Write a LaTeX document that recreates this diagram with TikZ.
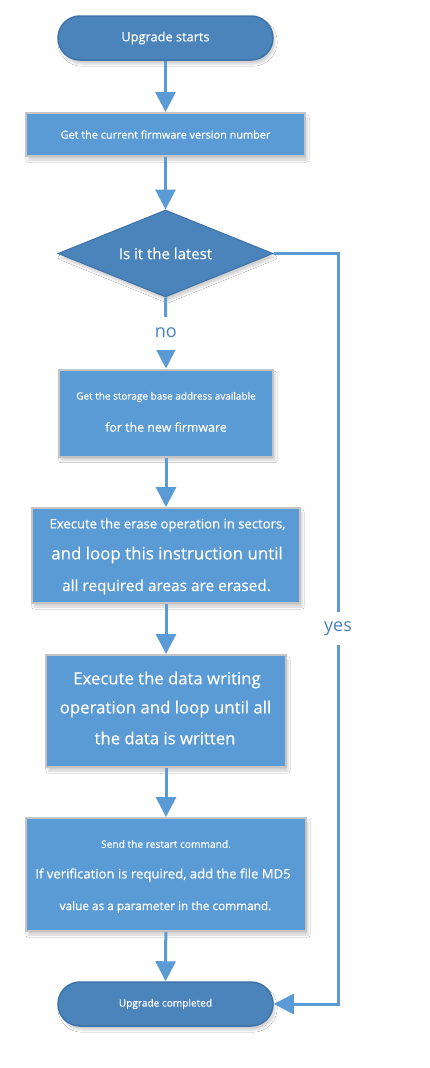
\documentclass[tikz,border=0pt]{standalone}
\usepackage{fontspec}
\setmainfont{Open Sans}
\newfontfamily\medfont{Open Sans}[FakeBold=0.4]
\usetikzlibrary{arrows.meta,shapes.geometric,shadows.blur}
\newcommand\fsz[1]{\fontsize{#1}{#1}\selectfont}
\definecolor{procfill}{HTML}{5B9BD5}
\definecolor{termfill}{HTML}{4A84BA}
\definecolor{termdraw}{HTML}{3E72A8}
\definecolor{procdraw}{HTML}{C4C4C4}
\definecolor{linecol}{HTML}{5B9BD5}
\definecolor{labcol}{HTML}{4A7FBF}
\tikzset{
  shade/.style={blur shadow={shadow xshift=2pt,shadow yshift=-4pt,shadow blur steps=6,shadow opacity=18}},
  term/.style={shade,draw=termdraw,line width=1.5pt,fill=termfill,rectangle,rounded corners=22pt,minimum width=215pt,minimum height=44pt,inner sep=0pt},
  proc/.style={shade,draw=procdraw,line width=2pt,fill=procfill,rectangle,inner sep=0pt},
  dec/.style={shade,draw=termdraw,line width=1pt,fill=termfill,diamond,minimum width=215pt,minimum height=87pt,inner sep=0pt},
  txt/.style={text=white,inner sep=0pt,anchor=center},
  conn/.style={draw=linecol,line width=3pt,-{Triangle[width=20pt,length=20pt]}},
  lab/.style={fill=white,text=labcol,inner xsep=3pt,minimum height=33pt}
}
\begin{document}
\begin{tikzpicture}[x=1pt,y=-1pt]
\fill[white] (0,0) rectangle (430,1068);
\useasboundingbox (0,0) rectangle (430,1068);
% shapes
\node[term] (start) at (165.5,38) {};
\node[txt,font=\medfont\fsz{12.8}] (startt) at (start) {Upgrade starts};
\node[proc,minimum width=279pt,minimum height=43pt] (b1) at (165.5,134.5) {};
\node[txt,font=\medfont\fsz{10.9}] (b1t) at (b1) {Get the current firmware version number};
\node[dec] (dia) at (165.5,253.5) {};
\node[txt,font=\medfont\fsz{15}] (diat) at (dia) {Is it the latest};
\node[proc,minimum width=214pt,minimum height=87pt] (b2) at (166,413) {};
\node[txt,font=\medfont\fsz{10}] (b2a) at (166,397) {Get the storage base address available};
\node[txt,font=\medfont\fsz{12.4}] (b2b) at (166,427) {for the new firmware};
\node[proc,minimum width=268pt,minimum height=95pt] (b3) at (166,555.5) {};
\node[txt,font=\medfont\fsz{13.1}] (b3a) at (167.5,525) {Execute the erase operation in sectors,};
\node[txt,font=\medfont\fsz{16.9}] (b3b) at (167,555) {and loop this instruction until};
\node[txt,font=\medfont\fsz{15.4}] (b3c) at (166.5,587) {all required areas are erased.};
\node[proc,minimum width=240pt,minimum height=112pt] (b4) at (166,711) {};
\node[txt,font=\medfont\fsz{16.7}] (b4a) at (167,680) {Execute the data writing};
\node[txt,font=\medfont\fsz{16.8}] (b4b) at (165.5,709) {operation and loop until all};
\node[txt,font=\medfont\fsz{16.7}] (b4c) at (165,738) {the data is written};
\node[proc,minimum width=280pt,minimum height=113pt] (b5) at (166,874.5) {};
\node[txt,font=\medfont\fsz{10.2}] (b5a) at (166,844) {Send the restart command.};
\node[txt,font=\medfont\fsz{13.1}] (b5b) at (163,875) {If verification is required, add the file MD5};
\node[txt,font=\medfont\fsz{11.8}] (b5c) at (165.5,907) {value as a parameter in the command.};
\node[term] (end) at (165.5,1004) {};
\node[txt,font=\medfont\fsz{10.1}] (endt) at (end) {Upgrade completed};
% connectors
\draw[conn] (start) -- (b1);
\draw[conn] (b1) -- (dia);
\draw[conn] (dia.south) -- node[lab,font=\fsz{18}] (no) {no} (b2.north);
\draw[conn] (b2) -- (b3);
\draw[conn] (b3) -- (b4);
\draw[conn] (b4) -- (b5);
\draw[conn] (b5) -- (end);
\coordinate (ya) at (338,253.5);
\coordinate (yb) at (338,1004);
\draw[conn] (dia.east) -- (ya) -- node[lab,font=\fsz{18}] (yes) {yes} (yb) -- (end.east);
\end{tikzpicture}
\end{document}
